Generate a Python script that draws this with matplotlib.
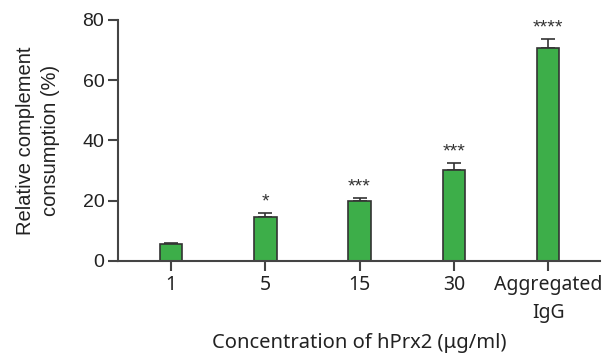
import numpy as np
import matplotlib.pyplot as plt

plt.rcParams['font.family'] = ['Noto Sans', 'DejaVu Sans']

categories = ["1", "5", "15", "30", "Aggregated\nIgG"]
values = [5.5, 14.6, 19.8, 30.3, 70.6]
errors = [0.6, 1.4, 1.2, 2.1, 3.0]
stars = ["", "*", "***", "***", "****"]
yticks = [0, 20, 40, 60, 80]

green = "#3dae49"
edge = "#333333"
axis_col = "#444444"
arial = ['Liberation Sans', 'DejaVu Sans']

fig = plt.figure(figsize=(6.03, 3.55), dpi=100)
ax = fig.add_axes([0.196, 0.265, 0.799, 0.679])

x = np.arange(len(categories))
ax.bar(x, values, width=0.24, color=green, edgecolor=edge, linewidth=1.2, zorder=2)
ax.errorbar(x, values, yerr=[np.zeros(len(errors)), errors], fmt='none',
            ecolor=edge, elinewidth=1.2, capsize=5, capthick=1.2, zorder=1)

for xi, v, e, s in zip(x, values, errors, stars):
    if s:
        ax.text(xi, v + e + 0.8, s, ha='center', va='bottom', fontsize=14,
                family=arial, color="#333333")

ax.set_xlim(-0.56, 4.55)
ax.set_ylim(0, 80)
ax.set_yticks(yticks)
ax.set_xticks(x)
ax.set_xticklabels(categories, fontsize=14, linespacing=1.55)
ax.set_yticklabels([str(v) for v in yticks], fontsize=14)
for lbl in ax.get_yticklabels():
    lbl.set_fontfamily(arial)
ax.spines['top'].set_visible(False)
ax.spines['right'].set_visible(False)
for sp in ['left', 'bottom']:
    ax.spines[sp].set_color(axis_col)
    ax.spines[sp].set_linewidth(1.5)
ax.tick_params(axis='both', colors=axis_col, labelcolor="#222222",
               width=1.5, length=7, pad=3)

ax.set_ylabel("Relative complement\nconsumption (%)", fontsize=14.5, color="#222222",
              family=arial, linespacing=1.4, va='center')
ax.yaxis.set_label_coords(-0.167, 0.5)
ax.set_xlabel("Concentration of hPrx2 (\u03bcg/ml)", fontsize=14.5, color="#222222")
ax.xaxis.set_label_coords(0.501, -0.299)

fig.savefig("out.png", dpi=100)
